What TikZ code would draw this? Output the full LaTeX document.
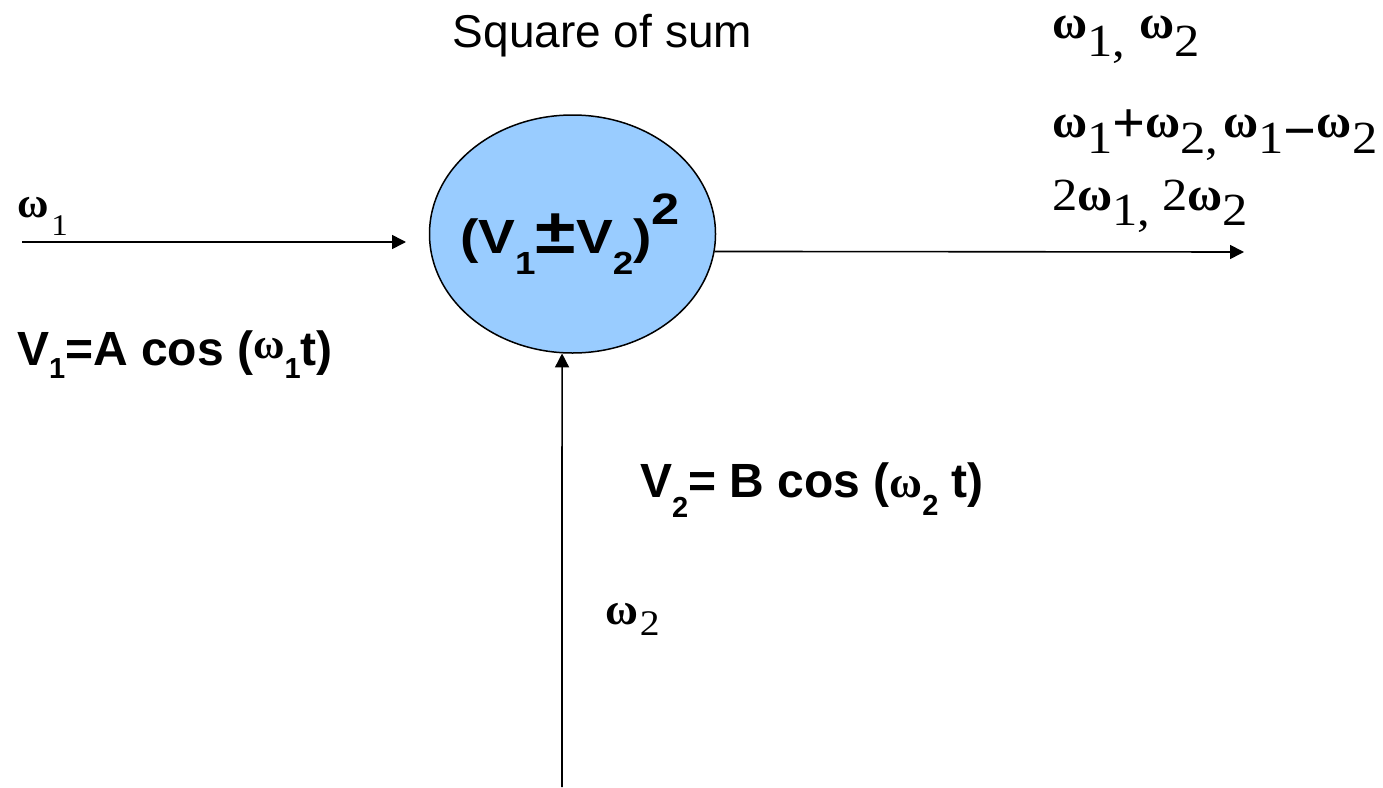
\documentclass[tikz,border=0pt]{standalone}
\usepackage{fontspec}
\setmainfont{Liberation Serif}
\setsansfont{Liberation Sans}
\usetikzlibrary{shapes.geometric,arrows.meta}
\definecolor{ballblue}{HTML}{99CCFF}
\newcommand\omg[1]{{\fontsize{#1}{#1}\selectfont\rmfamily\bfseries ω}}
\newcommand\lowr[3]{\raisebox{-#1pt}{\fontsize{#2}{#2}\selectfont #3}}
\newcommand\fs[1]{\fontsize{#1}{#1}\selectfont}
\newcommand\dg[2]{\scalebox{1.1}[1]{\fs{#1}#2}}
\newcommand\dsub[3]{\raisebox{-#1pt}{\dg{#2}{#3}}}
\begin{document}
\begin{tikzpicture}[x=1pt,y=-1pt,
  arr/.style={line width=1.6pt,-{Triangle[length=14pt,width=14pt]}},
  lbl/.style={anchor=base west,inner sep=0pt,outer sep=0pt},
  sanslbl/.style={lbl,font=\sffamily\bfseries\fs{48}},
  serlbl/.style={lbl,font=\rmfamily\fs{46}}]
\useasboundingbox (0,0) rectangle (1383,787);
\node[ellipse,draw,line width=1.5pt,fill=ballblue,minimum width=286pt,minimum height=238pt,inner sep=0pt] (ell) at (572.5,234) {};
\node[sanslbl] (eqn) at (460,253) {\scalebox{1.15}[1]{(V\lowr{21}{32}{1}{\fs{64}±}V\lowr{21}{32}{2})\raisebox{29pt}{\fs{44}2}}};
\node[lbl,anchor=base,font=\sffamily\fs{46}] (title) at (602.5,47) {Square of sum};
\node[lbl] (w1) at (17,217) {\omg{43}\hspace{3pt}\dsub{18}{30}{1}};
\node[sanslbl] (v1) at (17,365) {V\lowr{13}{29}{1}=A cos (\raisebox{7pt}{\omg{43}}\lowr{13}{29}{1}t)};
\node[sanslbl] (v2) at (640,497) {V\lowr{20}{29}{2}= B cos (\omg{45}\lowr{18}{29}{2} t)};
\node[lbl] (w2) at (605,624) {\omg{45}\hspace{2pt}\dsub{11}{36}{2}};
\node[serlbl] (o1) at (1052,38) {\omg{48}\dsub{18}{46}{1,}\hspace{14pt}\omg{48}\dsub{18}{46}{2}};
\node[serlbl] (o2) at (1052,137) {\omg{48}\dsub{16}{46}{1}\raisebox{-5pt}{\fs{58}\bfseries +}\omg{48}\dsub{16}{46}{2,}\hspace{5pt}\omg{48}\dsub{16}{46}{1}\raisebox{-13pt}{\fs{58}\bfseries −}\omg{48}\dsub{16}{46}{2}};
\node[serlbl] (o3) at (1052,210) {\dg{46}{2}\omg{48}\dsub{15}{46}{1,}\hspace{12pt}\dg{46}{2}\omg{48}\dsub{15}{46}{2}};
\coordinate (inS) at (22,242);
\coordinate (inE) at (406,242);
\coordinate (outE) at (1244,252);
\coordinate (botS) at (562,787);
\draw[arr] (inS) -- (inE);
\draw[arr] (ell.-7.25) -- (outE);
\draw[arr] (botS) -- (ell.-95.05);
\end{tikzpicture}
\end{document}
